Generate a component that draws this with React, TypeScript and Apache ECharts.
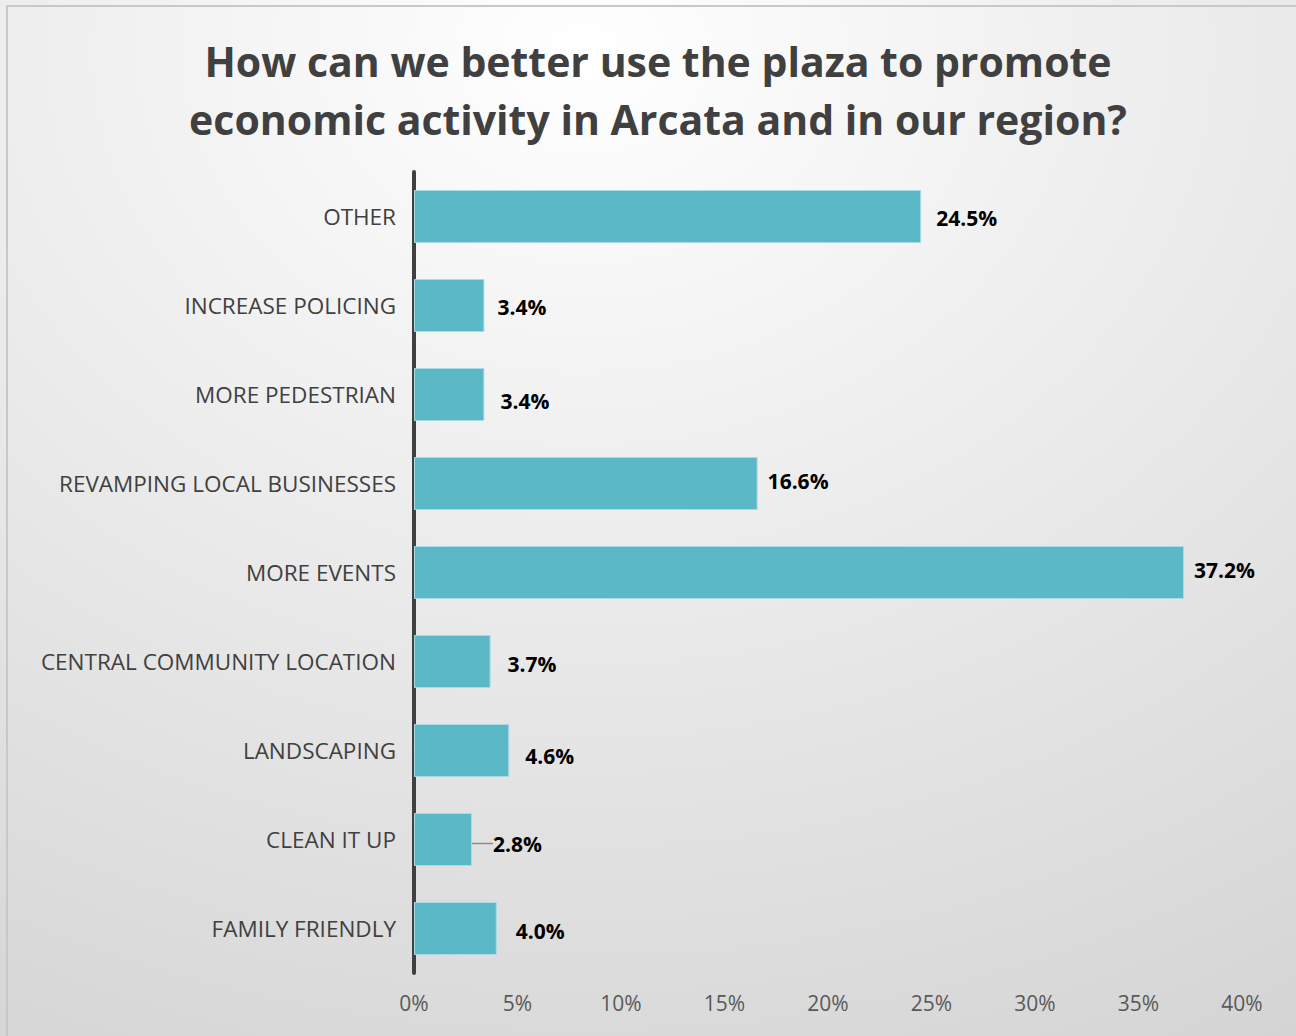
import React, { useEffect, useRef } from "react";
import * as echarts from "echarts";

const titleLines = [
  "How can we better use the plaza to promote",
  "economic activity in Arcata and in our region?",
];
const categories = [
  "OTHER",
  "INCREASE POLICING",
  "MORE PEDESTRIAN",
  "REVAMPING LOCAL BUSINESSES",
  "MORE EVENTS",
  "CENTRAL COMMUNITY LOCATION",
  "LANDSCAPING",
  "CLEAN IT UP",
  "FAMILY FRIENDLY",
];
const values = [24.5, 3.4, 3.4, 16.6, 37.2, 3.7, 4.6, 2.8, 4.0];
const xTicks = [0, 5, 10, 15, 20, 25, 30, 35, 40];
// small manual nudges of the value labels, as in the original
const labelNudges: [number, number][] = [
  [2, 1], [0, 1], [3, 6], [-3, -3], [-3, -3], [4, 2], [3, 5], [8, 4], [6, 2],
];

export default function App() {
  const ref = useRef<HTMLDivElement>(null);
  useEffect(() => {
    if (!ref.current) return;
    const chart = echarts.init(ref.current, undefined, { renderer: "svg" });
    chart.setOption({
      animation: false,
      backgroundColor: {
        type: "radial",
        x: 0.45,
        y: 0.05,
        r: 1.1,
        colorStops: [
          { offset: 0, color: "#ffffff" },
          { offset: 1, color: "#d4d4d4" },
        ],
      },
      title: {
        text: titleLines.join("\n"),
        left: 653,
        textAlign: "center",
        top: 27,
        textStyle: {
          fontFamily: "Open Sans",
          fontWeight: "bold",
          fontSize: 41,
          lineHeight: 58,
          color: "#404040",
        },
      },
      graphic: [
        {
          type: "polyline",
          shape: { points: [[7, 1036], [7, 6], [1296, 6]] },
          style: { stroke: "#c8c8c8", lineWidth: 2, fill: null },
          silent: true,
        },
      ],
      grid: { left: 414, right: 54, top: 172, bottom: 63, containLabel: false },
      xAxis: {
        type: "value",
        min: xTicks[0],
        max: xTicks[xTicks.length - 1],
        interval: 5,
        axisLine: { show: false },
        axisTick: { show: false },
        splitLine: { show: false },
        axisLabel: {
          formatter: (v: number) => v + "%",
          fontFamily: "Open Sans",
          fontSize: 21,
          color: "#595959",
          margin: 19,
        },
      },
      yAxis: {
        type: "category",
        data: categories,
        inverse: true,
        axisLine: { show: true, lineStyle: { color: "#404040", width: 4 } },
        axisTick: { show: false },
        axisLabel: {
          fontFamily: "Open Sans",
          fontSize: 22.5,
          color: "#404040",
          margin: 18,
        },
      },
      series: [
        {
          type: "bar",
          data: values.map((v, i) =>
            i === 7
              ? { value: v, labelLine: { show: true, lineStyle: { color: "#8c8c8c", width: 1.5 } } }
              : v
          ),
          barWidth: 53,
          itemStyle: { color: "#5bb8c7", borderColor: "#a8dbe3", borderWidth: 1 },
          label: {
            show: true,
            position: "right",
            distance: 13,
            formatter: (p: any) => p.value.toFixed(1) + "%",
            fontFamily: "Open Sans",
            fontWeight: "bold",
            fontSize: 21,
            color: "#000000",
          },
          labelLine: { show: false },
          labelLayout: (p: any) => {
            const n = labelNudges[p.dataIndex] || [0, 0];
            return { dx: n[0], dy: n[1] };
          },
        },
      ],
    });
    return () => chart.dispose();
  }, []);
  return (
    <div
      ref={ref}
      style={{ position: "absolute", left: 0, top: 0, width: 1296, height: 1036 }}
    />
  );
}
